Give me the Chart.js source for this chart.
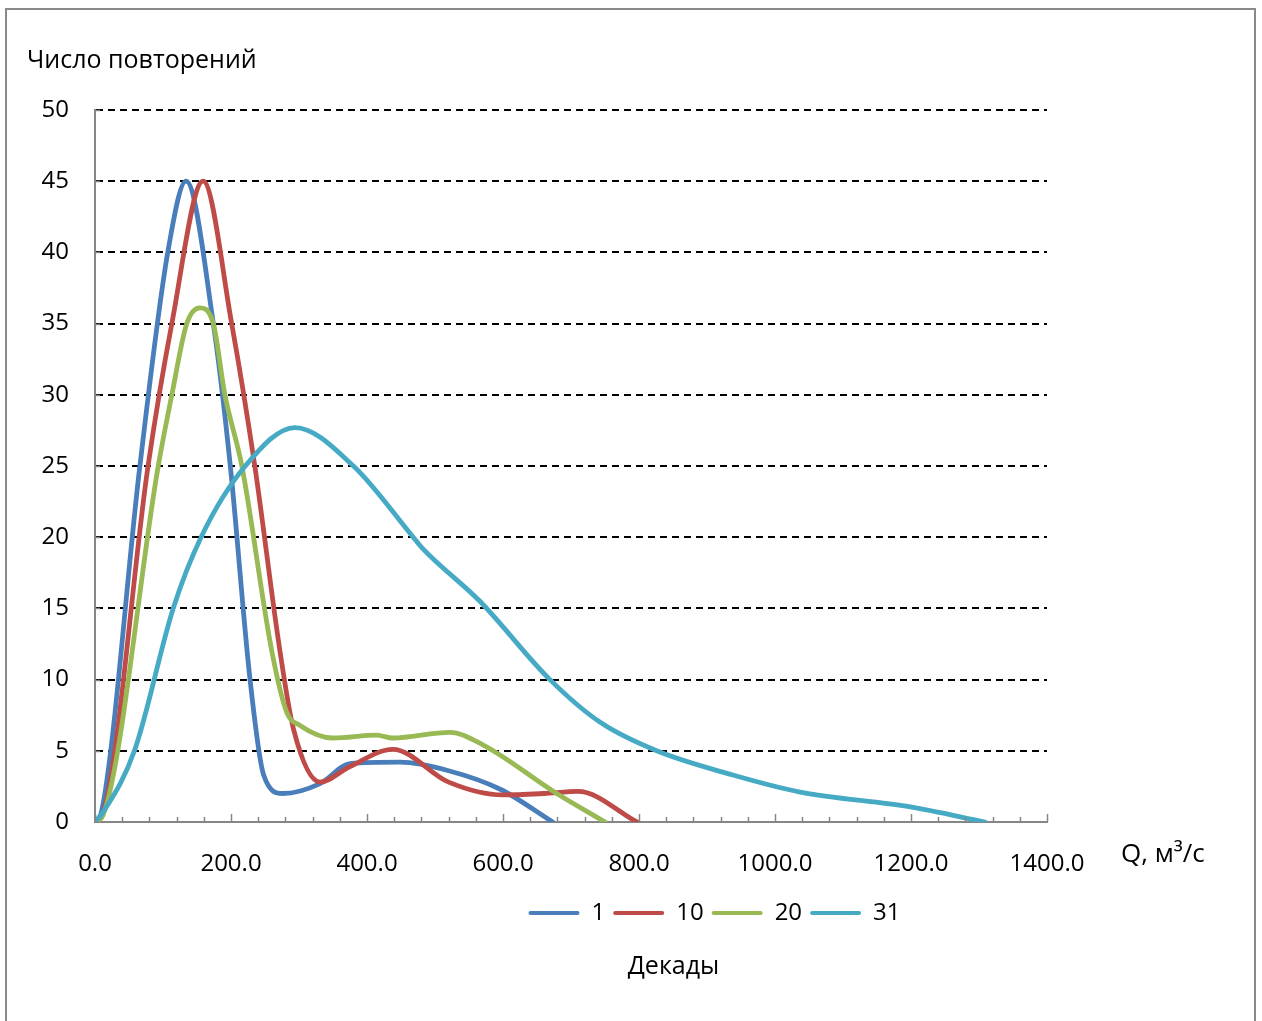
<!DOCTYPE html>
<html>
<head>
<meta charset="utf-8">
<script src="https://cdn.jsdelivr.net/npm/chart.js@4"></script>
<style>
  html, body { margin: 0; padding: 0; background: #fff; overflow: hidden; }
  #wrap { position: relative; width: 1262px; height: 1021px; }
  #frame { position: absolute; left: 5px; top: 8px; width: 1251px; height: 1100px;
           box-sizing: border-box; border: 2px solid #8a8a8a; pointer-events: none; }
  canvas { position: absolute; left: 0; top: 0; }
</style>
</head>
<body>
<div id="wrap">
  <canvas id="chart" width="1262" height="1021"></canvas>
  <div id="frame"></div>
</div>
<script>
// Discharge Q (m³/s) and number of repetitions for each decade
const decadeNames = ['1', '10', '20', '31'];

const q1 = [0, 10, 66, 107, 134, 174, 199, 228, 248, 276, 331, 375, 449, 520, 596, 673];
const n1 = [0, 0.8, 25, 40, 45, 35, 25, 10, 3.3, 2, 2.7, 4.1, 4.2, 3.6, 2.3, 0];

const q10 = [0, 12, 78, 113, 159, 201, 235, 272, 292, 331, 375, 438, 520, 600, 660, 710, 797];
const n10 = [0, 0.6, 25, 35, 45, 35, 25, 12, 6.5, 2.8, 3.9, 5.1, 2.8, 1.9, 2.0, 2.15, 0];

const q20 = [0, 12, 93, 113, 135, 154, 174, 191, 216, 260, 282, 301, 350, 414, 438, 522, 571, 679, 750];
const n20 = [0, 0.5, 25, 30, 35, 36.1, 35, 30, 25, 12, 7.7, 6.8, 5.9, 6.1, 5.9, 6.3, 5.4, 2.0, 0];

const q31 = [0, 12, 58, 115, 156, 221, 294, 380, 468, 482, 566, 669, 743, 826, 938, 1037, 1199, 1309];
const n31 = [0, 0.7, 5, 15, 20, 25, 27.7, 25, 20, 19.2, 15.5, 10, 7, 5, 3.3, 2.1, 1.06, 0];

const seriesColors = ['#4A7EBB', '#BE4B48', '#98B954', '#46AAC5'];

// Axis settings
const xMax = 1400, xStep = 200, xMinorStep = 40;
const yMax = 50, yStep = 5;

const axisGray = '#868686';
const FONT = "'Open Sans', 'DejaVu Sans', sans-serif";

Chart.defaults.font.family = FONT;
Chart.defaults.font.size = 24;
Chart.defaults.color = '#000';

function toPoints(qs, ns) {
  return qs.map((q, i) => ({ x: q, y: ns[i] }));
}

const allQ = [q1, q10, q20, q31];
const allN = [n1, n10, n20, n31];

const datasets = decadeNames.map((name, i) => ({
  label: name,
  data: toPoints(allQ[i], allN[i]),
  borderColor: seriesColors[i],
  backgroundColor: seriesColors[i],
  borderWidth: 4.8,
  showLine: true,
  pointRadius: 0,
  pointHoverRadius: 0,
  cubicInterpolationMode: 'monotone',
  borderCapStyle: 'round',
  borderJoinStyle: 'round',
  order: decadeNames.length - i
}));

// Small inside tick marks on both axes, axis captions, and placement of the legend block
const axisDecor = {
  id: 'axisDecor',
  afterLayout(chart) {
    const lg = chart.legend;
    if (lg) { lg.left += 191; lg.right += 191; }
    const tb = chart.titleBlock;
    if (tb) { tb.left += 150; tb.right += 150; }
  },
  afterDraw(chart) {
    const { ctx, scales: { x, y } } = chart;
    ctx.save();
    ctx.strokeStyle = axisGray;
    ctx.lineWidth = 1.5;
    ctx.beginPath();
    for (let v = 0; v <= xMax; v += xMinorStep) {
      const px = Math.round(x.getPixelForValue(v)) + 0.5;
      const len = (v % xStep === 0) ? 8 : 5;
      ctx.moveTo(px, y.bottom);
      ctx.lineTo(px, y.bottom - len);
    }
    for (let v = yStep; v <= yMax; v += yStep) {
      const py = Math.round(y.getPixelForValue(v)) + 0.5;
      ctx.moveTo(x.left, py);
      ctx.lineTo(x.left + 5, py);
    }
    ctx.stroke();

    ctx.fillStyle = '#000';
    ctx.textAlign = 'left';
    ctx.textBaseline = 'alphabetic';
    ctx.font = '25px ' + FONT;
    ctx.fillText('Число повторений', 27, 68);
    ctx.font = '26px ' + FONT;
    ctx.fillText('Q, м³/с', 1121, 862);
    ctx.restore();
  }
};

new Chart(document.getElementById('chart'), {
  type: 'scatter',
  data: { datasets },
  options: {
    responsive: false,
    animation: false,
    devicePixelRatio: 1,
    layout: { padding: { left: 0, top: 110, right: 215, bottom: 29 } },
    plugins: {
      tooltip: { enabled: false },
      legend: {
        position: 'bottom',
        labels: {
          boxWidth: 51,
          boxHeight: 4,
          padding: 8,
          useBorderRadius: true,
          borderRadius: 2,
          font: { size: 24 },
          generateLabels(chart) {
            return chart.data.datasets.map((ds, i) => ({
              text: ds.label,
              fillStyle: ds.borderColor,
              strokeStyle: ds.borderColor,
              lineWidth: 0,
              borderRadius: 2,
              fontColor: '#000',
              hidden: false,
              datasetIndex: i
            }));
          }
        }
      },
      title: {
        display: true,
        text: 'Декады',
        position: 'bottom',
        font: { size: 25, weight: 'normal' },
        color: '#000',
        padding: { top: 17, bottom: 10 }
      }
    },
    scales: {
      x: {
        type: 'linear',
        min: 0,
        max: xMax,
        ticks: {
          stepSize: xStep,
          padding: 28,
          maxRotation: 0,
          autoSkip: false,
          callback: v => Number(v).toFixed(1)
        },
        grid: { display: true, drawTicks: false, color: 'rgba(0,0,0,0)' },
        border: { color: axisGray, width: 2 },
        afterFit(s) { s.height = 71; }
      },
      y: {
        min: 0,
        max: yMax,
        ticks: { stepSize: yStep, padding: 26 },
        grid: {
          drawTicks: false,
          lineWidth: 2,
          color: c => (c.tick && c.tick.value === 0) ? 'rgba(0,0,0,0)' : '#000'
        },
        border: { color: axisGray, width: 2, dash: [7, 5] },
        afterFit(s) { s.width = 95; }
      }
    }
  },
  plugins: [axisDecor]
});
</script>
</body>
</html>
